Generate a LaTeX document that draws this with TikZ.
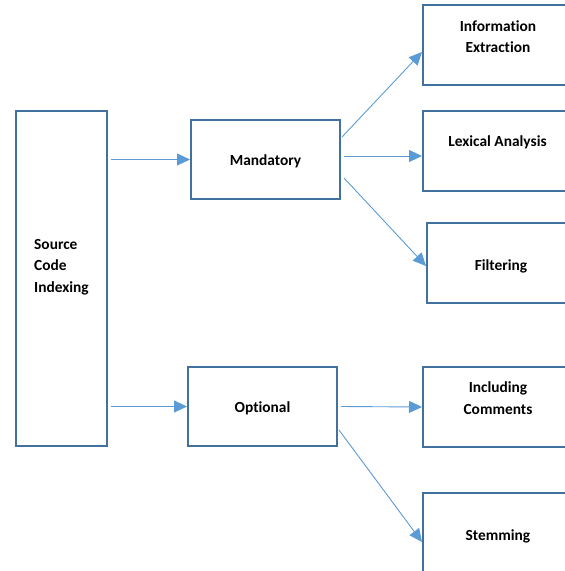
\documentclass[tikz,border=0pt]{standalone}
\usepackage{fontspec}
\setmainfont{Carlito}[Ligatures=NoCommon]
\usetikzlibrary{arrows.meta,positioning}
\definecolor{boxblue}{RGB}{65,113,156}
\definecolor{arrowblue}{RGB}{91,155,213}

\begin{document}
\begin{tikzpicture}[x=1pt, y=-1pt,
    box/.style={rectangle, draw=boxblue, line width=2pt, minimum width=150pt, minimum height=80pt, inner sep=0pt},
    txt/.style={font=\fontsize{15.4}{21.5}\selectfont\bfseries, align=center, inner sep=0pt},
    arrow/.style={-{Triangle[length=13pt, width=12pt]}, draw=arrowblue, line width=0.9pt}
]
    \useasboundingbox (0,0) rectangle (565,571);
    \clip (0,0) rectangle (565,571);

    % Source box (left)
    \node[box, minimum width=91pt, minimum height=335pt] (source) at (61.5,278.5) {};
    \node[txt, align=left, anchor=west] (source_txt) at (34,267) {Source\\Code\\Indexing};

    % Middle boxes
    \node[box, minimum width=149pt, minimum height=79pt] (mandatory) at (265.5,159.5) {};
    \node[txt] (mandatory_txt) at (265.5,161) {Mandatory};
    \node[box, minimum width=149pt, minimum height=79pt] (optional) at (262.5,406.5) {};
    \node[txt] (optional_txt) at (262.5,408) {Optional};

    % Right boxes (run past the edge)
    \node[box] (info) at (498,45) {};
    \node[txt] (info_txt) at (498,36.5) {Information\\Extraction};
    \node[box] (lexical) at (498,151) {};
    \node[txt] (lexical_txt) at (497.5,142) {Lexical Analysis};
    \node[box, minimum width=148pt] (filtering) at (501,263) {};
    \node[txt] (filtering_txt) at (501,266) {Filtering};
    \node[box] (including) at (498,407) {};
    \node[txt] (including_txt) at (498,398) {Including\\Comments};
    \node[box] (stemming) at (498,533) {};
    \node[txt] (stemming_txt) at (498,536) {Stemming};

    % Source to middle
    \draw[arrow] ([xshift=3pt]source.east |- mandatory.west) -- (mandatory.west);
    \draw[arrow] ([xshift=3pt]source.east |- optional.west) -- (optional.west);

    % Mandatory to right
    \draw[arrow] ([xshift=1pt, yshift=22.5pt]mandatory.east) -- ([yshift=-7pt]info.west);
    \draw[arrow] ([xshift=3pt, yshift=3.5pt]mandatory.east) -- ([yshift=-5pt]lexical.west);
    \draw[arrow] ([xshift=3pt, yshift=-18.5pt]mandatory.east) -- ([yshift=-3pt]filtering.west);

    % Optional to right
    \draw[arrow] ([xshift=3pt]optional.east) -- (including.west);
    \draw[arrow] ([xshift=1pt, yshift=-23.5pt]optional.east) -- ([yshift=-9pt]stemming.west);

\end{tikzpicture}
\end{document}
